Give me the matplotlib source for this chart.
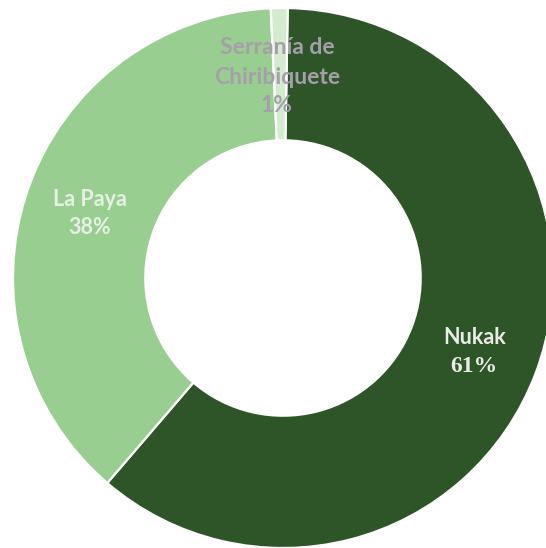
import matplotlib
matplotlib.use("Agg")
import matplotlib.pyplot as plt

categories = ["Nukak", "La Paya", "Serranía de\nChiribiquete"]
values = [61, 38, 1]
colors = ["#2E5527", "#98CE8F", "#D4EBCF"]

W, H = 546, 548
CX, CY, R = 283, 278, 270  # pixel geometry of the ring

fig = plt.figure(figsize=(W / 100, H / 100), dpi=100)
ax = fig.add_axes([0, 0, 1, 1])
ax.axis("off")

ax.pie(values, colors=colors, startangle=89, counterclock=False, radius=1.0,
       wedgeprops=dict(width=0.49, edgecolor="white", linewidth=1.6))
ax.set_aspect("auto")
ax.set_xlim((0 - CX) / R, (W - CX) / R)
ax.set_ylim((CY - H) / R, (CY - 0) / R)


def P(px, py):
    return (px - CX) / R, (CY - py) / R


sans = ["Lato", "DejaVu Sans"]
serif = ["Liberation Serif", "DejaVu Serif"]

pct = [f"{v}%" for v in values]

# Serranía de Chiribiquete
lines = categories[2].split("\n")
for txt, y in zip(lines + [pct[2]], [48, 77, 106]):
    ax.text(*P(277, y), txt, ha="center", va="center", fontsize=16.5,
            fontweight="bold", color="#A59FAA", family=sans)

# La Paya
ax.text(*P(90, 200), categories[1], ha="center", va="center", fontsize=15.5,
        fontweight="bold", color="#E7F0E4", family=sans)
ax.text(*P(90, 228), pct[1], ha="center", va="center", fontsize=15.5,
        fontweight="bold", color="#E7F0E4", family=sans)

# Nukak
ax.text(*P(475, 338), categories[0], ha="center", va="center", fontsize=15.5,
        fontweight="bold", color="#E9ECE6", family=sans)
ax.text(*P(474, 366), pct[0], ha="center", va="center", fontsize=17,
        fontweight="bold", color="#E9ECE6", family=serif)

fig.savefig("out.png", dpi=100, facecolor="white")
